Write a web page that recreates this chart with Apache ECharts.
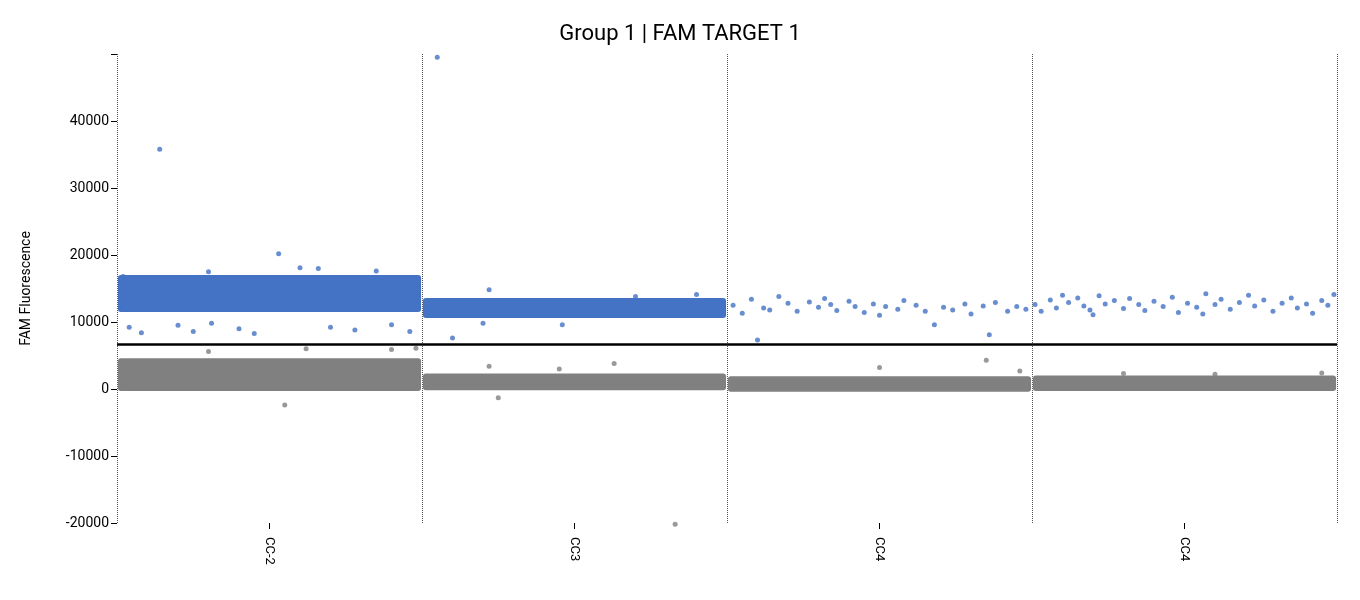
<!DOCTYPE html>
<html><head><meta charset="utf-8">
<script src="https://cdn.jsdelivr.net/npm/echarts@6/dist/echarts.min.js"></script>
<style>html,body{margin:0;padding:0;background:#fff}#c{width:1360px;height:600px}</style>
</head><body><div id="c"></div>
<script>
var wells = ["CC-2", "CC3", "CC4", "CC4"];
var threshold = 6700;
var BLUE = "#4472c4", GRAY = "#808080";
// dense droplet clouds per well: [well, yLow, yHigh]
var blueBands = [[0, 11500, 17000], [1, 10600, 13600]];
var grayBands = [[0, -300, 4600], [1, -200, 2300], [2, -400, 1900], [3, -300, 2000]];
// individual droplets: [x position, fluorescence]
var bluePoints = [
  [0.14, 35800], [0.53, 20200], [0.6, 18100], [0.66, 18000], [0.04, 9200], [0.08, 8400], [0.2, 9500],
  [0.25, 8600], [0.31, 9800], [0.4, 9000], [0.45, 8300], [0.7, 9200], [0.78, 8800], [0.9, 9600],
  [0.96, 8600], [0.02, 16800], [0.3, 17500], [0.85, 17600], [1.05, 49500], [1.22, 14800],
  [1.1, 7600], [1.2, 9800], [1.46, 9600], [1.7, 13800], [1.9, 14100],
  [2.02, 12500], [2.05, 11300], [2.08, 13400], [2.1, 7300], [2.12, 12100], [2.17, 13800], [2.2, 12800],
  [2.23, 11600], [2.27, 13000], [2.3, 12200], [2.34, 12600], [2.36, 11700], [2.4, 13100], [2.42, 12300],
  [2.45, 11400], [2.48, 12700], [2.52, 12300], [2.56, 11900], [2.58, 13200], [2.62, 12500], [2.65, 11600],
  [2.68, 9600], [2.71, 12200], [2.74, 11800], [2.78, 12700], [2.8, 11200], [2.84, 12400], [2.86, 8100],
  [2.88, 12900], [2.92, 11600], [2.95, 12300], [2.98, 11900], [2.14, 11800], [2.32, 13500], [2.5, 11000],
  [3.01, 12600], [3.03, 11600], [3.06, 13300], [3.08, 12100], [3.1, 14000], [3.12, 12900], [3.15, 13600],
  [3.17, 12400], [3.19, 11800], [3.22, 13900], [3.24, 12700], [3.27, 13200], [3.3, 12000], [3.32, 13500],
  [3.35, 12600], [3.37, 11700], [3.4, 13100], [3.43, 12300], [3.46, 13700], [3.48, 11400], [3.51, 12800],
  [3.54, 12200], [3.57, 14200], [3.6, 12600], [3.62, 13400], [3.65, 11900], [3.68, 12900], [3.71, 14000],
  [3.73, 12400], [3.76, 13300], [3.79, 11600], [3.82, 12800], [3.85, 13600], [3.87, 12100], [3.9, 12700],
  [3.92, 11300], [3.95, 13200], [3.97, 12500], [3.99, 14100], [3.56, 11200], [3.2, 11100]
];
var grayPoints = [
  [0.55, -2400], [0.3, 5600], [0.62, 6000], [0.9, 5900], [0.98, 6100], [1.25, -1300],
  [1.83, -20200], [1.63, 3800], [1.22, 3400], [1.45, 3000], [2.85, 4300], [2.5, 3200], [2.96, 2700],
  [3.95, 2400], [3.3, 2300], [3.6, 2200]
];

var myChart = echarts.init(document.getElementById("c"));
function bandSeries(bands, color) {
  return {
    type: "custom", xAxisIndex: 1, silent: true,
    data: bands,
    renderItem: function (params, api) {
      var a = api.coord([api.value(0) + 0.003, api.value(2)]);
      var b = api.coord([api.value(0) + 0.997, api.value(1)]);
      return { type: "rect", shape: { x: a[0], y: a[1], width: b[0] - a[0], height: b[1] - a[1], r: 3 },
        style: { fill: color } };
    }
  };
}
var option = {
  animation: false,
  title: { text: "Group 1 | FAM TARGET 1", left: "center", top: 18,
    textStyle: { fontFamily: "Roboto", fontWeight: "normal", fontSize: 22, color: "#000" } },
  grid: { left: 117, right: 23, top: 54, bottom: 77 },
  xAxis: [
    { type: "category", data: wells, position: "bottom",
      axisLine: { show: true, onZero: false, lineStyle: { color: "rgba(0,0,0,0)" } },
      axisTick: { show: true, alignWithLabel: true, length: 6, lineStyle: { color: "#000" } },
      axisLabel: { rotate: -90, color: "#000", fontFamily: "Roboto", fontSize: 13, margin: 14 } },
    { type: "value", min: 0, max: 4, interval: 1, show: true,
      axisLine: { show: false }, axisTick: { show: false }, axisLabel: { show: false },
      splitLine: { show: true, lineStyle: { type: "dotted", color: "#555" } } }
  ],
  yAxis: { type: "value", min: -20000, max: 50000, interval: 10000, name: "FAM Fluorescence",
    nameLocation: "middle", nameGap: 84,
    nameTextStyle: { color: "#000", fontFamily: "Roboto", fontSize: 14 },
    axisLine: { show: true, onZero: false, lineStyle: { color: "rgba(0,0,0,0)" } },
    axisTick: { show: true, length: 6, lineStyle: { color: "#000" } },
    axisLabel: { color: "#000", fontFamily: "Roboto", fontSize: 14, formatter: function (v) { return v === 50000 ? "" : v; } },
    splitLine: { show: false } },
  series: [
    bandSeries(grayBands, GRAY),
    bandSeries(blueBands, BLUE),
    { type: "scatter", xAxisIndex: 1, data: grayPoints, symbolSize: 5, clip: false, itemStyle: { color: GRAY } },
    { type: "scatter", xAxisIndex: 1, data: bluePoints, symbolSize: 5, clip: false, itemStyle: { color: BLUE },
      markLine: { silent: true, symbol: "none", label: { show: false },
        lineStyle: { color: "#000", width: 2.5, type: "solid" }, data: [{ yAxis: threshold }] } }
  ]
};
myChart.setOption(option);
</script></body></html>
